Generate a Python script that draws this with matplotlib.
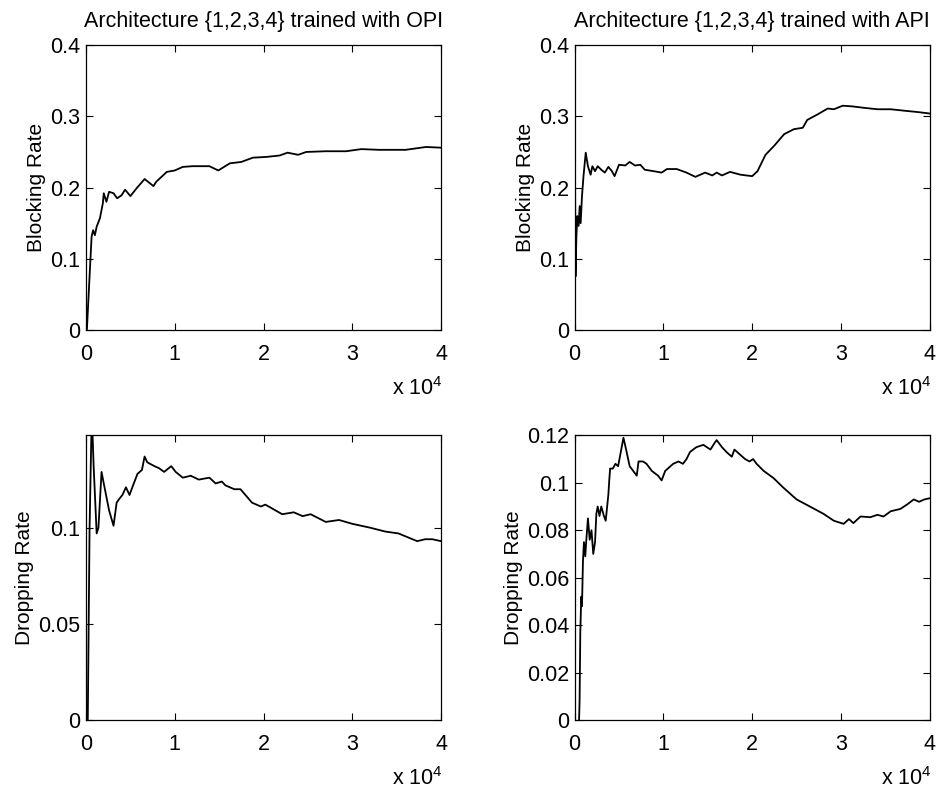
import matplotlib as mpl
import matplotlib.pyplot as plt
from matplotlib.ticker import FuncFormatter

mpl.use('Agg')
plt.rcParams['font.family'] = ['Liberation Sans', 'DejaVu Sans']
plt.rcParams['mathtext.fontset'] = 'custom'
plt.rcParams['mathtext.rm'] = 'Liberation Sans'

# x values are in units of 10^4 iterations
x_opi_block = [0.01, 0.04, 0.063, 0.08, 0.1, 0.12, 0.157, 0.19, 0.2, 0.23, 0.26, 0.31,
               0.35, 0.4, 0.44, 0.5, 0.57, 0.66, 0.76, 0.79, 0.91, 1.0, 1.09, 1.2,
               1.39, 1.49, 1.62, 1.75, 1.88, 2.03, 2.18, 2.27, 2.39, 2.48, 2.7, 2.93,
               3.1, 3.3, 3.6, 3.83, 4.0]
y_opi_block = [0.0, 0.075, 0.131, 0.14, 0.133, 0.145, 0.157, 0.178, 0.192, 0.18, 0.194, 0.192,
               0.185, 0.189, 0.197, 0.188, 0.199, 0.212, 0.202, 0.208, 0.222, 0.224, 0.229, 0.23,
               0.23, 0.224, 0.234, 0.236, 0.242, 0.243, 0.245, 0.249, 0.246, 0.25, 0.251, 0.251,
               0.254, 0.253, 0.253, 0.257, 0.256]

x_api_block = [0.003, 0.01, 0.02, 0.03, 0.045, 0.057, 0.068, 0.083, 0.1, 0.125, 0.15, 0.18,
               0.2, 0.23, 0.26, 0.3, 0.34, 0.38, 0.42, 0.45, 0.5, 0.57, 0.62, 0.68, 0.74,
               0.79, 0.89, 0.98, 1.04, 1.15, 1.26, 1.36, 1.47, 1.55, 1.6, 1.66, 1.75, 1.87,
               2.0, 2.06, 2.15, 2.25, 2.36, 2.47, 2.57, 2.62, 2.74, 2.85, 2.92, 3.02, 3.13,
               3.26, 3.41, 3.56, 3.71, 3.87, 4.0]
y_api_block = [0.27, 0.075, 0.131, 0.16, 0.146, 0.174, 0.15, 0.188, 0.216, 0.249, 0.23, 0.218,
               0.23, 0.223, 0.23, 0.225, 0.221, 0.229, 0.223, 0.216, 0.232, 0.231, 0.236, 0.231, 0.232,
               0.225, 0.223, 0.221, 0.226, 0.226, 0.221, 0.215, 0.221, 0.217, 0.221, 0.217, 0.222, 0.218,
               0.216, 0.223, 0.246, 0.259, 0.275, 0.282, 0.284, 0.295, 0.303, 0.311, 0.31, 0.315, 0.314,
               0.312, 0.31, 0.31, 0.308, 0.306, 0.304]

x_opi_drop = [0.02, 0.04, 0.065, 0.086, 0.12, 0.14, 0.175, 0.2, 0.26, 0.31, 0.345, 0.375,
              0.41, 0.45, 0.49, 0.53, 0.58, 0.63, 0.66, 0.69, 0.77, 0.82, 0.88, 0.96, 1.01,
              1.09, 1.18, 1.27, 1.39, 1.46, 1.53, 1.57, 1.67, 1.74, 1.87, 1.97, 2.02, 2.21,
              2.34, 2.44, 2.53, 2.7, 2.85, 3.0, 3.2, 3.37, 3.52, 3.73, 3.82, 3.9, 4.0]
y_opi_drop = [0.0, 0.099, 0.16, 0.132, 0.097, 0.10, 0.129, 0.123, 0.109, 0.101, 0.113, 0.115,
              0.117, 0.121, 0.117, 0.122, 0.128, 0.13, 0.137, 0.134, 0.132, 0.131, 0.129, 0.132, 0.129,
              0.126, 0.127, 0.125, 0.126, 0.123, 0.124, 0.122, 0.12, 0.12, 0.113, 0.111, 0.112, 0.107,
              0.108, 0.106, 0.107, 0.103, 0.104, 0.102, 0.1, 0.098, 0.097, 0.093, 0.094, 0.094, 0.093]

x_api_drop = [0.05, 0.056, 0.064, 0.075, 0.083, 0.094, 0.105, 0.12, 0.13, 0.15, 0.17, 0.19,
              0.21, 0.23, 0.245, 0.26, 0.28, 0.3, 0.33, 0.35, 0.38, 0.39, 0.4, 0.43, 0.46,
              0.49, 0.52, 0.55, 0.58, 0.62, 0.66, 0.7, 0.72, 0.77, 0.81, 0.87, 0.94, 0.98,
              1.02, 1.08, 1.11, 1.17, 1.22, 1.26, 1.3, 1.37, 1.45, 1.53, 1.58, 1.6, 1.66,
              1.71, 1.77, 1.8, 1.86, 1.92, 1.97, 2.01, 2.05, 2.13, 2.24, 2.35, 2.5, 2.65,
              2.8, 2.92, 3.03, 3.09, 3.14, 3.22, 3.33, 3.41, 3.48, 3.56, 3.67, 3.75, 3.82,
              3.88, 3.94, 4.0]
y_api_drop = [0.0, 0.008, 0.037, 0.052, 0.048, 0.067, 0.075, 0.069, 0.075, 0.085, 0.076, 0.08,
              0.070, 0.075, 0.087, 0.09, 0.086, 0.09, 0.086, 0.084, 0.095, 0.101, 0.106, 0.106, 0.108,
              0.107, 0.113, 0.119, 0.114, 0.107, 0.105, 0.103, 0.109, 0.109, 0.108, 0.105, 0.103, 0.101,
              0.105, 0.107, 0.108, 0.109, 0.108, 0.11, 0.113, 0.115, 0.116, 0.114, 0.117, 0.118, 0.115,
              0.113, 0.111, 0.114, 0.112, 0.11, 0.109, 0.110, 0.108, 0.105, 0.102, 0.098, 0.093, 0.09,
              0.087, 0.084, 0.0827, 0.0847, 0.083, 0.0858, 0.0855, 0.0865, 0.0858, 0.088, 0.089, 0.091, 0.093,
              0.092, 0.093, 0.0935]

titles = ["Architecture {1,2,3,4} trained with OPI", "Architecture {1,2,3,4} trained with API"]
ylabels = ["Blocking Rate", "Dropping Rate"]

fig = plt.figure(figsize=(9.42, 7.93), dpi=100)
w, h = 0.377, 0.359
ax_tl = fig.add_axes([0.0913, 0.584, w, h])
ax_tr = fig.add_axes([0.610, 0.584, w, h])
ax_bl = fig.add_axes([0.0913, 0.092, w, h])
ax_br = fig.add_axes([0.610, 0.092, w, h])

ax_tl.plot(x_opi_block, y_opi_block, color='black', lw=1.3)
ax_tr.plot(x_api_block, y_api_block, color='black', lw=1.3)
ax_bl.plot(x_opi_drop, y_opi_drop, color='black', lw=1.3)
ax_br.plot(x_api_drop, y_api_drop, color='black', lw=1.3)

fmt = FuncFormatter(lambda v, p: f"{v:g}")
for ax in (ax_tl, ax_tr, ax_bl, ax_br):
    ax.set_xlim(0, 4)
    ax.set_xticks([0, 1, 2, 3, 4])
    ax.tick_params(direction='in', top=True, right=True, length=5, width=0.8,
                   labelsize=15.5)
    ax.tick_params(axis='x', pad=10)
    ax.tick_params(axis='y', pad=4)
    ax.xaxis.set_major_formatter(fmt)
    ax.yaxis.set_major_formatter(fmt)
    for s in ax.spines.values():
        s.set_linewidth(0.9)
    ax.text(1.005, -0.228, r"x 10$^{4}$", transform=ax.transAxes, ha='right', va='baseline',
            fontsize=15.5)

for ax in (ax_tl, ax_tr):
    ax.set_ylim(0, 0.4)
    ax.set_yticks([0, 0.1, 0.2, 0.3, 0.4])
    ax.set_ylabel(ylabels[0], fontsize=15, labelpad=3)

ax_bl.set_ylim(0, 0.148)
ax_bl.set_yticks([0, 0.05, 0.1])
ax_br.set_ylim(0, 0.12)
ax_br.set_yticks([0, 0.02, 0.04, 0.06, 0.08, 0.1, 0.12])
for ax in (ax_bl, ax_br):
    ax.set_ylabel(ylabels[1], fontsize=15, labelpad=3)

ax_tl.set_title(titles[0], fontsize=15.5, pad=13)
ax_tr.set_title(titles[1], fontsize=15.5, pad=13)

fig.savefig('out.png', dpi=100)
